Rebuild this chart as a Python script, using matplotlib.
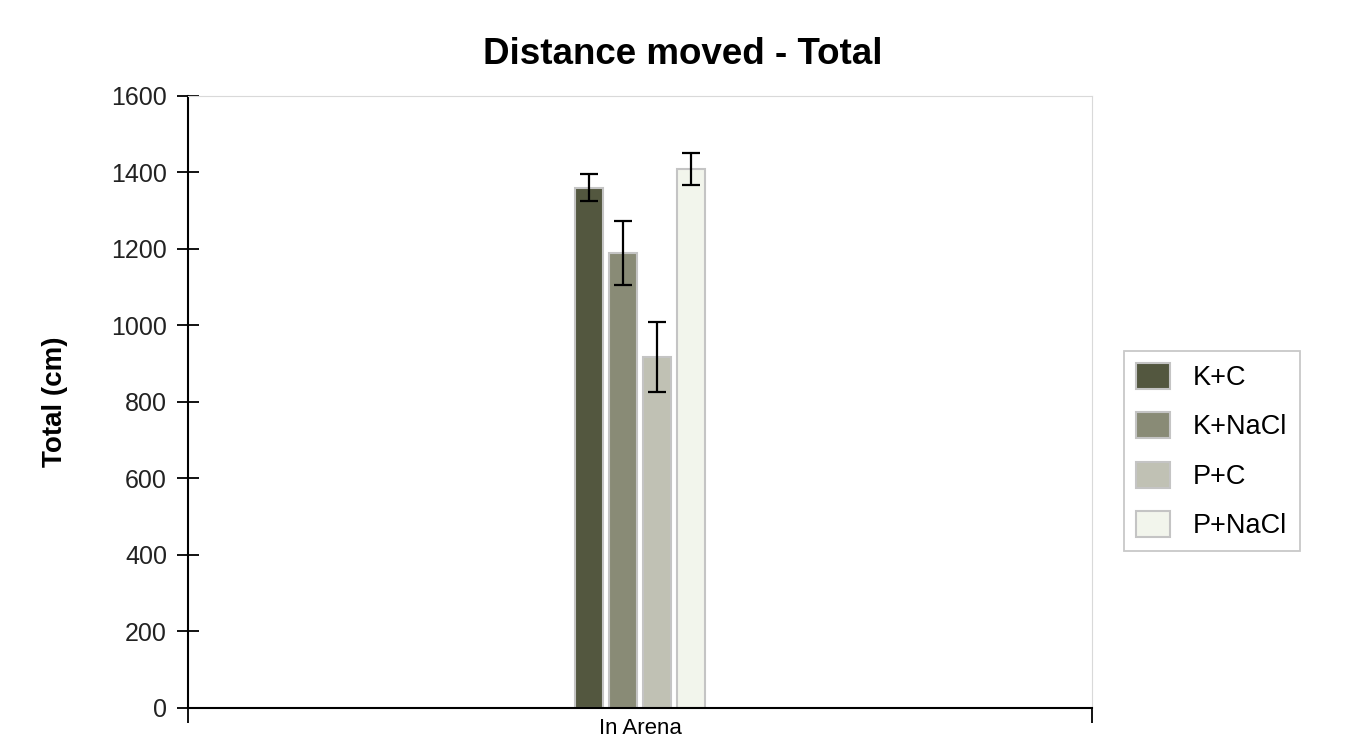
import matplotlib.pyplot as plt

plt.rcParams['font.family'] = ['Liberation Sans', 'DejaVu Sans']

# data
groups = ['K+C', 'K+NaCl', 'P+C', 'P+NaCl']
means = [1360, 1190, 918, 1410]
errors = [35, 83, 92, 42]
colors = ['#53573f', '#898b76', '#c0c1b4', '#f2f5ec']
category = ['In Arena']

fig = plt.figure(figsize=(13.57, 7.38), dpi=100)
ax = fig.add_axes([0.1385, 0.0407, 0.6662, 0.8293])

step = 0.0373
width = 0.031
for i, (g, m, e, c) in enumerate(zip(groups, means, errors, colors)):
    x = (i - 1.5) * step
    ax.bar(x, m, width, color=c, edgecolor='#c4c4c4', linewidth=1.5, label=g, zorder=2)
    ax.errorbar(x, m, yerr=e, color='black', capsize=6.5, elinewidth=1.6,
                capthick=1.6, zorder=3)

ax.set_xlim(-0.5, 0.5)
ax.set_ylim(0, 1600)
ax.set_yticks(range(0, 1601, 200))
ax.tick_params(axis='y', direction='inout', length=16, width=1.3, pad=7,
               labelsize=18, labelcolor='#222222')
ax.set_xticks([0])
ax.set_xticklabels(category)
ax.tick_params(axis='x', length=0, pad=7, labelsize=16)
ax.set_xticks([-0.5, 0.5], minor=True)
ax.tick_params(axis='x', which='minor', direction='out', length=11, width=1.3)

for s in ['top', 'right']:
    ax.spines[s].set_color('#d9d9d9')
for s in ['left', 'bottom']:
    ax.spines[s].set_linewidth(1.5)

ax.set_ylabel('Total (cm)', fontsize=20, fontweight='bold')
ax.yaxis.set_label_coords(-0.1327, 0.5)

fig.text(0.503, 1 - 55 / 738, 'Distance moved - Total', fontsize=26.5,
         fontweight='bold', ha='center', va='center')

leg = ax.legend(loc='center left', bbox_to_anchor=(1124 / 1357, 1 - 451 / 738),
                bbox_transform=fig.transFigure, fontsize=19.5, frameon=True,
                fancybox=False, edgecolor='#bbbbbb', handlelength=1.25,
                handleheight=1.1, labelspacing=0.78, handletextpad=0.85,
                borderpad=0.45, borderaxespad=0)
leg.get_frame().set_linewidth(1.3)

fig.savefig('out.png', dpi=100)
